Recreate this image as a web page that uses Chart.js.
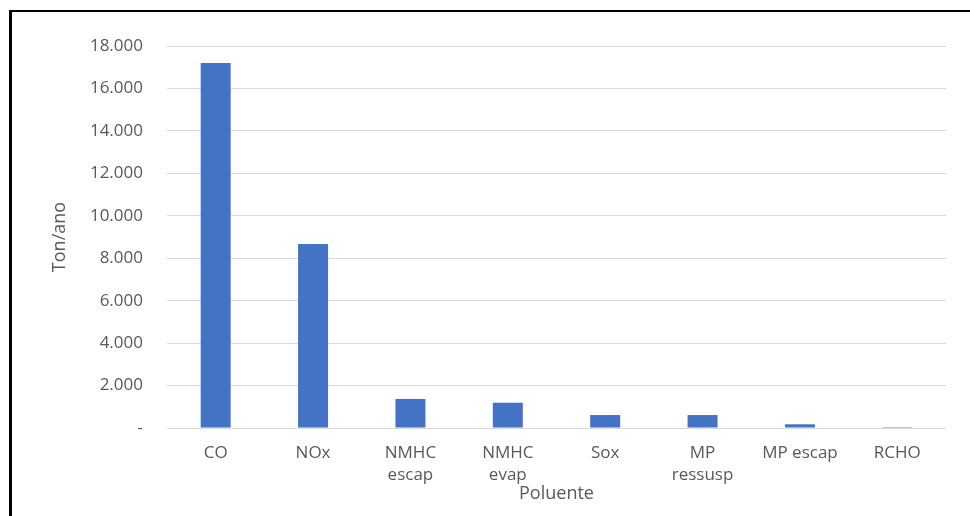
<!DOCTYPE html>
<html>
<head>
<meta charset="utf-8">
<script src="https://cdn.jsdelivr.net/npm/chart.js@4/dist/chart.umd.min.js"></script>
<style>
  html, body { margin: 0; padding: 0; background: #fff; overflow: hidden; }
  #wrap { position: relative; width: 970px; height: 516px; }
  #frame {
    position: absolute; left: 9px; top: 10px; right: -20px; bottom: -20px;
    border-top: 2px solid #000; border-left: 3px solid #000; pointer-events: none;
  }
  canvas { position: absolute; left: 0; top: 0; }
</style>
</head>
<body>
<div id="wrap">
  <canvas id="chart" width="970" height="516"></canvas>
  <div id="frame"></div>
</div>
<script>
// Emissões por poluente (ton/ano)
const categories = [["CO"], ["NOx"], ["NMHC", "escap"], ["NMHC", "evap"], ["Sox"], ["MP", "ressusp"], ["MP escap"], ["RCHO"]];
const emissions = [17200, 8670, 1370, 1190, 610, 610, 175, 4];
const yTicks = [0, 2000, 4000, 6000, 8000, 10000, 12000, 14000, 16000, 18000];

const textGray = '#595959';
const font = 'Open Sans';

function formatThousands(v) {
  if (v === 0) return '-';
  return String(v).replace(/\B(?=(\d{3})+(?!\d))/g, '.');
}

new Chart(document.getElementById('chart'), {
  type: 'bar',
  data: {
    labels: categories,
    datasets: [{
      label: 'Ton/ano',
      data: emissions,
      backgroundColor: '#4472C4',
      borderWidth: 0,
      categoryPercentage: 1,
      barPercentage: 0.308
    }]
  },
  options: {
    responsive: false,
    animation: false,
    devicePixelRatio: 1,
    layout: { padding: { left: 0, right: 24, top: 46, bottom: 0 } },
    plugins: { legend: { display: false }, tooltip: { enabled: false } },
    scales: {
      x: {
        grid: { display: false },
        border: { display: false },
        ticks: {
          autoSkip: false, maxRotation: 0, minRotation: 0,
          color: textGray, padding: 6,
          font: { family: font, size: 17, lineHeight: 1.3 }
        },
        title: {
          display: true, text: 'Poluente', color: textGray,
          font: { family: font, size: 18, lineHeight: 1.2 },
          padding: { top: 0, bottom: 11 }
        },
        afterFit(scale) { scale.height = 88; }
      },
      y: {
        min: 0, max: 18000,
        afterBuildTicks(scale) { scale.ticks = yTicks.map(v => ({ value: v })); },
        grid: { color: '#d9d9d9', lineWidth: 1, drawTicks: false },
        border: { display: false },
        ticks: {
          color: textGray, padding: 24,
          font: { family: font, size: 17 },
          callback: (v) => formatThousands(v)
        },
        title: {
          display: true, text: 'Ton/ano', color: textGray,
          font: { family: font, size: 18, lineHeight: 1.2 },
          padding: { top: 49, bottom: 0 }
        },
        afterFit(scale) { scale.width = 167; }
      }
    }
  }
});
</script>
</body>
</html>
